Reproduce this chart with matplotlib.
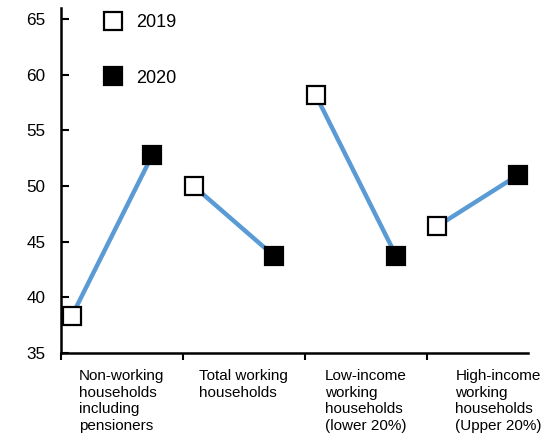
import matplotlib
matplotlib.use("Agg")
import matplotlib.pyplot as plt
from matplotlib.lines import Line2D

categories = ["Non-working\nhouseholds\nincluding\npensioners",
              "Total working\nhouseholds",
              "Low-income\nworking\nhouseholds\n(lower 20%)",
              "High-income\nworking\nhouseholds\n(Upper 20%)"]
values_2019 = [38.3, 50.0, 58.2, 46.4]
values_2020 = [52.8, 43.7, 43.7, 51.0]
yticks = [35, 40, 45, 50, 55, 60, 65]

plt.rcParams['font.family'] = ['Liberation Sans', 'DejaVu Sans']

fig = plt.figure(figsize=(5.59, 4.41), dpi=100)
ax = fig.add_axes([0.109, 0.1995, 0.8355, 0.7825])

off19, off20 = 0.088, 0.75
blue = '#5B9BD5'
for i, (a, b) in enumerate(zip(values_2019, values_2020)):
    ax.plot([i + off19, i + off20], [a, b], color=blue, lw=3.2, zorder=2,
            solid_capstyle='butt')
    ax.plot([i + off19], [a], marker='s', ms=13.5, mfc='white', mec='black',
            mew=1.6, ls='none', zorder=3)
    ax.plot([i + off20], [b], marker='s', ms=13.5, mfc='black', mec='black',
            mew=1.6, ls='none', zorder=3)

ax.set_xlim(0, 3.83)
ax.set_ylim(35, 66)
ax.set_yticks(yticks)
ax.set_yticklabels([str(t) for t in yticks], fontsize=12.3)
ax.set_xticks([0, 1, 2, 3])
ax.set_xticklabels([])
ax.tick_params(axis='y', direction='in', length=6, width=1.5, pad=11)
ax.tick_params(axis='x', direction='out', length=5, width=1.5)
for s in ['top', 'right']:
    ax.spines[s].set_visible(False)
for s in ['left', 'bottom']:
    ax.spines[s].set_linewidth(1.8)

label_x = [0.5, 1.5, 2.5, 3.59]
for lx, c in zip(label_x, categories):
    ax.text(lx, -0.045, c, transform=ax.get_xaxis_transform(), ha='center',
            va='top', multialignment='left', fontsize=11, linespacing=1.27)

handles = [Line2D([], [], marker='s', ms=13.5, mfc='white', mec='black', mew=1.6, ls='none'),
           Line2D([], [], marker='s', ms=13.5, mfc='black', mec='black', mew=1.6, ls='none')]
ax.legend(handles, ['2019', '2020'], loc='upper left', bbox_to_anchor=(0.058, 1.003),
          frameon=False, fontsize=13, labelspacing=2.14, handletextpad=0.25,
          borderaxespad=0)

fig.savefig('out.png', dpi=100)
